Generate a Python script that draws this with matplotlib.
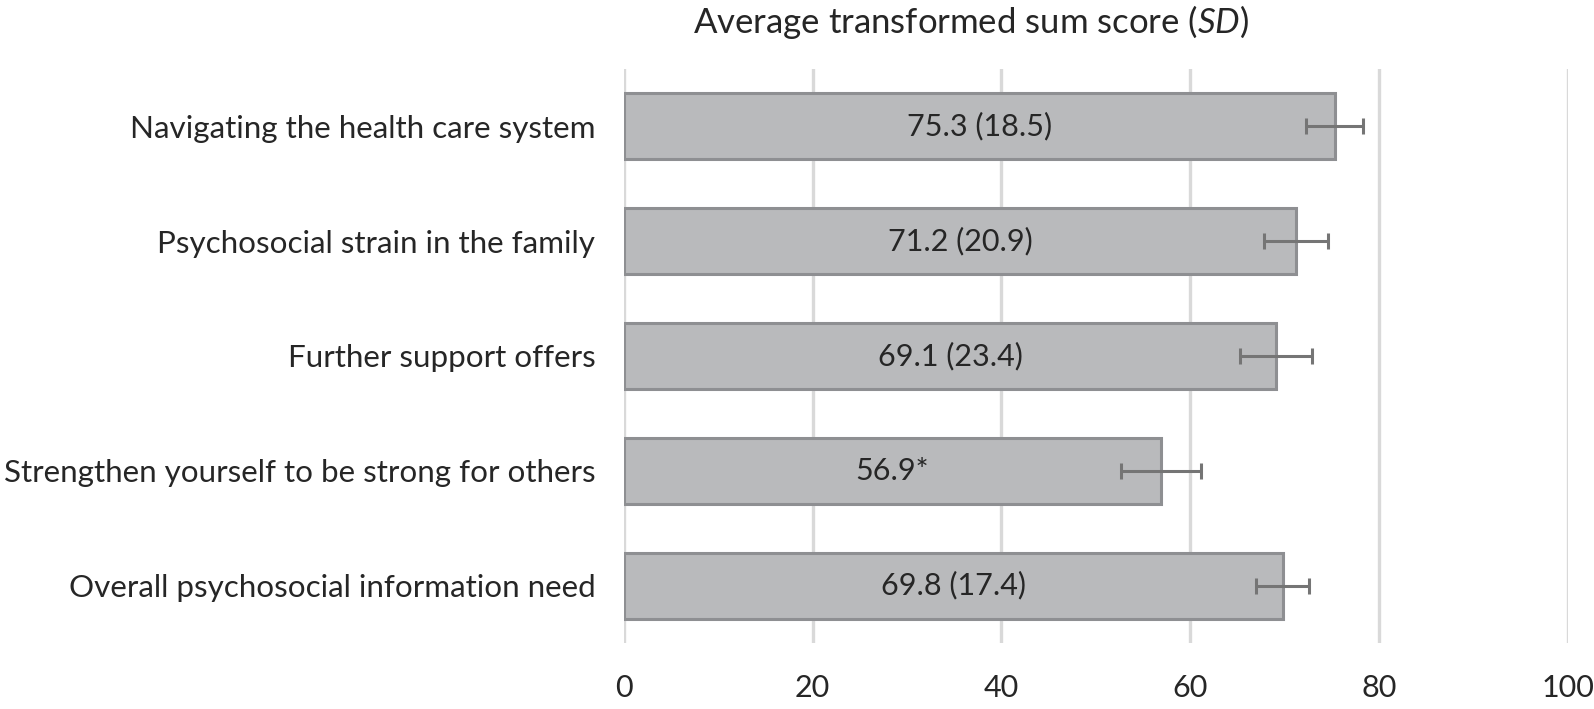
import matplotlib
matplotlib.use("Agg")
import matplotlib.pyplot as plt

categories = [
    "Navigating the health care system",
    "Psychosocial strain in the family",
    "Further support offers",
    "Strengthen yourself to be strong for others",
    "Overall psychosocial information need",
]
means = [75.3, 71.2, 69.1, 56.9, 69.8]
errors = [3.0, 3.4, 3.8, 4.2, 2.8]
bar_labels = ["75.3 (18.5)", "71.2 (20.9)", "69.1 (23.4)", "56.9*", "69.8 (17.4)"]
xticks = [0, 20, 40, 60, 80, 100]
title = "Average transformed sum score ($\\mathit{SD}$)"

plt.rcParams['font.family'] = ['Lato', 'DejaVu Sans']
plt.rcParams['mathtext.fontset'] = 'custom'
plt.rcParams['mathtext.rm'] = 'Lato'
plt.rcParams['mathtext.it'] = 'Lato:italic'

W, H = 1594, 709
fig = plt.figure(figsize=(W / 100, H / 100), dpi=100)
ax = fig.add_axes([623.8 / W, 1 - 643 / H, (1568 - 623.8) / W, (643 - 69) / H])

ypos = list(range(len(categories)))
ax.barh(ypos, means, height=0.575, color="#b9babc", edgecolor="#8e8f92",
        linewidth=2.2, zorder=2)
ax.errorbar(means, ypos, xerr=errors, fmt="none", ecolor="#757575",
            elinewidth=2.2, capsize=6.1, capthick=2.2, zorder=3)

for y, v, lab in zip(ypos, means, bar_labels):
    ax.text(v / 2, y, lab, ha="center", va="center", fontsize=22,
            color="#262626", zorder=4)

ax.set_xlim(0, 100)
ax.set_ylim(len(categories) - 0.5, -0.5)
ax.set_xticks(xticks)
ax.set_xticklabels([str(t) for t in xticks])
ax.set_yticks(ypos)
ax.set_yticklabels(categories)
ax.tick_params(axis="x", length=0, pad=22, labelsize=22, labelcolor="#262626")
ax.tick_params(axis="y", length=0, pad=20.5, labelsize=22.6, labelcolor="#262626")
ax.xaxis.grid(True, color="#d9d9d9", linewidth=2.4, zorder=0)
ax.set_axisbelow(True)
for s in ax.spines.values():
    s.set_visible(False)

fig.text(971 / W, 1 - 22 / H, title, ha="center", va="center", fontsize=25,
         color="#262626")

fig.savefig("out.png", dpi=100)
